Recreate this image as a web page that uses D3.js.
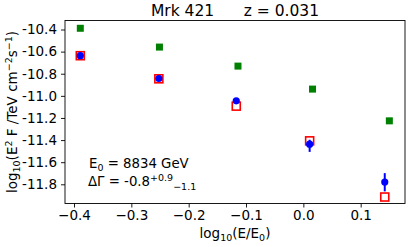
<!DOCTYPE html>
<html>
<head>
<meta charset="utf-8">
<script src="https://cdn.jsdelivr.net/npm/d3@7"></script>
<style>
  body { margin: 0; background: #fff; }
  svg { display: block; font-family: "DejaVu Sans", sans-serif; }
</style>
</head>
<body>
<svg id="chart"></svg>
<script>
const width = 415;
const height = 247;
const margin = { top: 20.5, right: 10, bottom: 43.5, left: 65 };

// log10(E/E0) bins
const xGreen = [-0.389, -0.251, -0.114, 0.016, 0.150];
const yGreen = [-10.389, -10.559, -10.731, -10.939, -11.226];
const xBin = [-0.389, -0.252, -0.117, 0.011, 0.142];
const yModel = [-10.637, -10.846, -11.093, -11.407, -11.915];
const yObs = [-10.637, -10.843, -11.045, -11.437, -11.779];
const errLo = [0.01, 0.01, 0.01, 0.07, 0.085];
const errHi = [0.01, 0.01, 0.01, 0.04, 0.08];

const xTicks = [-0.4, -0.3, -0.2, -0.1, 0.0, 0.1];
const yTicks = [-10.4, -10.6, -10.8, -11.0, -11.2, -11.4, -11.6, -11.8];

const svg = d3.select("#chart")
  .attr("width", width)
  .attr("height", height);

const x = d3.scaleLinear()
  .domain([-0.4157, 0.1773])
  .range([margin.left, width - margin.right]);

const y = d3.scaleLinear()
  .domain([-10.3186, -11.9736])
  .range([margin.top, height - margin.bottom]);

const xAxis = d3.axisBottom(x)
  .tickValues(xTicks)
  .tickSize(4)
  .tickPadding(3)
  .tickFormat(d => d3.format(".1f")(d));

const yAxis = d3.axisLeft(y)
  .tickValues(yTicks)
  .tickSize(4)
  .tickPadding(4)
  .tickFormat(d => d.toFixed(1));

const gx = svg.append("g")
  .attr("transform", `translate(0, ${height - margin.bottom})`)
  .call(xAxis);

const gy = svg.append("g")
  .attr("transform", `translate(${margin.left}, 0)`)
  .call(yAxis);

[gx, gy].forEach(g => {
  g.select(".domain").remove();
  g.selectAll("text").attr("font-size", 13.5).attr("fill", "#000")
    .attr("font-family", "DejaVu Sans, sans-serif");
  g.selectAll("line").attr("stroke", "#000").attr("stroke-width", 0.9);
});

// frame
svg.append("rect")
  .attr("x", margin.left)
  .attr("y", margin.top)
  .attr("width", width - margin.left - margin.right)
  .attr("height", height - margin.top - margin.bottom)
  .attr("fill", "none")
  .attr("stroke", "#000")
  .attr("stroke-width", 0.9);

// green squares
svg.selectAll(".green")
  .data(xGreen)
  .enter()
  .append("rect")
  .attr("class", "green")
  .attr("x", (d, i) => x(d) - 3.5)
  .attr("y", (d, i) => y(yGreen[i]) - 3.5)
  .attr("width", 7)
  .attr("height", 7)
  .attr("fill", "#008000");

// red open squares
svg.selectAll(".model")
  .data(xBin)
  .enter()
  .append("rect")
  .attr("class", "model")
  .attr("x", d => x(d) - 4)
  .attr("y", (d, i) => y(yModel[i]) - 4)
  .attr("width", 8)
  .attr("height", 8)
  .attr("fill", "none")
  .attr("stroke", "#ff0000")
  .attr("stroke-width", 1.6);

// blue error bars
svg.selectAll(".err")
  .data(xBin)
  .enter()
  .append("line")
  .attr("class", "err")
  .attr("x1", d => x(d))
  .attr("x2", d => x(d))
  .attr("y1", (d, i) => y(yObs[i] + errHi[i]))
  .attr("y2", (d, i) => y(yObs[i] - errLo[i]))
  .attr("stroke", "#0000ff")
  .attr("stroke-width", 2);

// blue points
svg.selectAll(".obs")
  .data(xBin)
  .enter()
  .append("circle")
  .attr("class", "obs")
  .attr("cx", d => x(d))
  .attr("cy", (d, i) => y(yObs[i]))
  .attr("r", 3.6)
  .attr("fill", "#0000ff");

// title
svg.append("text")
  .attr("x", (margin.left + width - margin.right) / 2)
  .attr("y", 16)
  .attr("text-anchor", "middle")
  .attr("font-size", 15.5)
  .attr("xml:space", "preserve")
  .text("Mrk 421      z = 0.031");

// x label
const xl = svg.append("text")
  .attr("x", (margin.left + width - margin.right) / 2)
  .attr("y", 238)
  .attr("text-anchor", "middle")
  .attr("font-size", 13.5);
xl.append("tspan").text("log");
xl.append("tspan").attr("font-size", 9.5).attr("dy", 3).text("10");
xl.append("tspan").attr("dy", -3).text("(E/E");
xl.append("tspan").attr("font-size", 9.5).attr("dy", 3).text("0");
xl.append("tspan").attr("dy", -3).text(")");

// y label
const yl = svg.append("text")
  .attr("transform", `translate(17, ${(margin.top + height - margin.bottom) / 2}) rotate(-90)`)
  .attr("text-anchor", "middle")
  .attr("font-size", 13.5);
yl.append("tspan").text("log");
yl.append("tspan").attr("font-size", 9.5).attr("dy", 3).text("10");
yl.append("tspan").attr("dy", -3).text("(E");
yl.append("tspan").attr("font-size", 9.5).attr("dy", -5.5).text("2");
yl.append("tspan").attr("dy", 5.5).text(" F /TeV cm");
yl.append("tspan").attr("font-size", 9.5).attr("dy", -5.5).text("−2");
yl.append("tspan").attr("dy", 5.5).text("s");
yl.append("tspan").attr("font-size", 9.5).attr("dy", -5.5).text("−1");
yl.append("tspan").attr("dy", 5.5).text(")");

// annotation
const a1 = svg.append("text")
  .attr("x", 89)
  .attr("y", 168)
  .attr("font-size", 13.3);
a1.append("tspan").text("E");
a1.append("tspan").attr("font-size", 9.5).attr("dy", 3).text("0");
a1.append("tspan").attr("dy", -3).text(" = 8834 GeV");

const a2 = svg.append("text")
  .attr("x", 88)
  .attr("y", 186)
  .attr("font-size", 13.3);
a2.append("tspan").text("ΔΓ = -0.8");
a2.append("tspan").attr("font-size", 9.5).attr("dy", -5.5).text("+0.9");
a2.append("tspan").attr("font-size", 9.5).attr("dy", 9.5).text("−1.1");
</script>
</body>
</html>
